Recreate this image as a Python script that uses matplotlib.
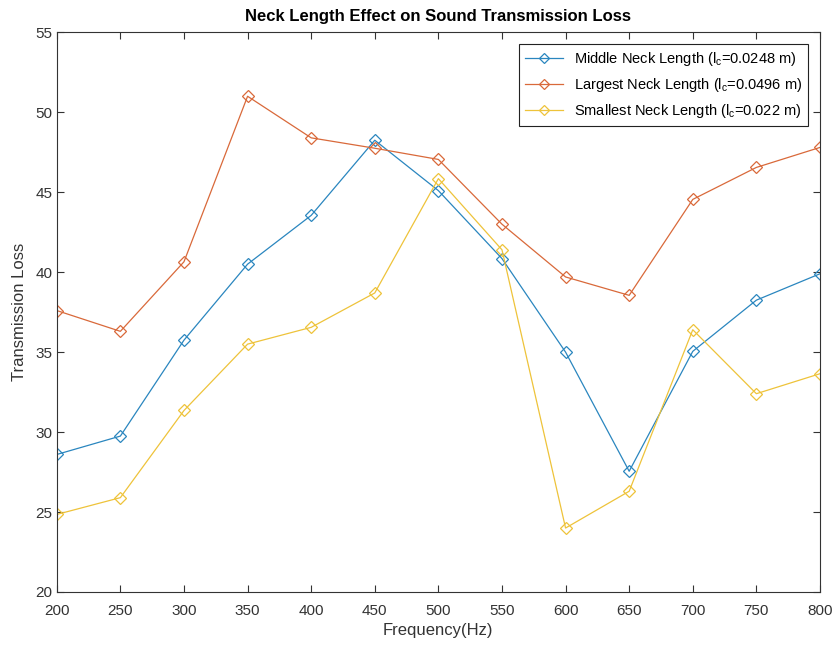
import numpy as np
import matplotlib
matplotlib.use("Agg")
import matplotlib.pyplot as plt

plt.rcParams['font.family'] = ['Liberation Sans', 'DejaVu Sans']
plt.rcParams['mathtext.fontset'] = 'custom'
plt.rcParams['mathtext.rm'] = 'Liberation Sans'
plt.rcParams['mathtext.it'] = 'Liberation Sans'

# data
freq = [200, 250, 300, 350, 400, 450, 500, 550, 600, 650, 700, 750, 800]
tl_middle = [28.6, 29.75, 35.75, 40.5, 43.55, 48.25, 45.1, 40.85, 35.0, 27.55, 35.05, 38.25, 39.9]
tl_largest = [37.6, 36.3, 40.65, 51.0, 48.4, 47.75, 47.05, 43.0, 39.7, 38.55, 44.55, 46.55, 47.8]
tl_smallest = [24.85, 25.9, 31.35, 35.5, 36.55, 38.7, 45.85, 41.4, 24.0, 26.3, 36.4, 32.4, 33.65]

labels = ["Middle Neck Length ($\\mathregular{l_c}$=0.0248 m)",
          "Largest Neck Length ($\\mathregular{l_c}$=0.0496 m)",
          "Smallest Neck Length ($\\mathregular{l_c}$=0.022 m)"]
colors = ["#2a86bf", "#d9693a", "#eec33a"]

fig = plt.figure(figsize=(8.35, 6.46), dpi=100)
ax = fig.add_axes([0.068, 0.0836, 0.914, 0.8664])

for vals, lab, col in zip([tl_middle, tl_largest, tl_smallest], labels, colors):
    ax.plot(freq, vals, color=col, linewidth=0.9, marker="D", markersize=6.5,
            markerfacecolor="none", markeredgecolor=col, markeredgewidth=0.9, label=lab)

ax.set_xlim(200, 800)
ax.set_ylim(20, 55)
ax.set_xticks(np.arange(200, 801, 50))
ax.set_yticks(np.arange(20, 56, 5))
ax.tick_params(direction="in", top=True, right=True, length=5, labelsize=11,
               labelcolor="#333333", color="#333333", width=0.8)
ax.tick_params(axis="x", pad=9)
ax.tick_params(axis="y", pad=3)
for sp in ax.spines.values():
    sp.set_linewidth(0.8)
    sp.set_color("#333333")

ax.set_xlabel("Frequency(Hz)", fontsize=12, color="#333333", labelpad=3)
ax.set_ylabel("Transmission Loss", fontsize=12, color="#333333", labelpad=6)
ax.set_title("Neck Length Effect on Sound Transmission Loss", fontsize=12,
             fontweight="bold", pad=8)

leg = ax.legend(loc="upper right", fontsize=10.5, fancybox=False, framealpha=1,
                edgecolor="#222222", borderaxespad=0.8, handlelength=2.6,
                labelspacing=0.55, markerscale=0.85)
leg.get_frame().set_linewidth(0.8)

fig.savefig("out.png", dpi=100)
